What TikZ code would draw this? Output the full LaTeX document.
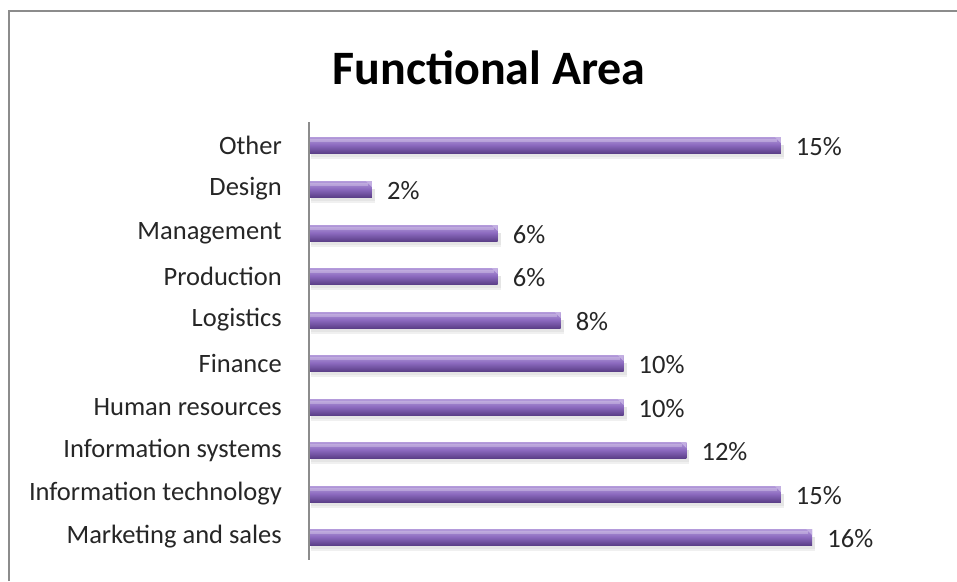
\documentclass[tikz,border=0pt]{standalone}
\usepackage{fontspec}
\setmainfont{Carlito}
\definecolor{barlight}{HTML}{B49BDB}
\definecolor{barmid}{HTML}{8B69BE}
\definecolor{bardark}{HTML}{5C4089}
\definecolor{framegray}{HTML}{8C8C8C}
\begin{document}
\begin{tikzpicture}[x=1pt,y=-1pt,
  catlabel/.style={anchor=east,font=\fontsize{26.5}{30}\selectfont,text=black!85,inner sep=0pt},
  pctlabel/.style={anchor=west,font=\fontsize{26.5}{30}\selectfont,text=black!85,inner sep=0pt},
  barshade/.style={top color=barlight,bottom color=bardark,middle color=barmid},
  barshadow/.style={fill=black!10}]
\useasboundingbox (0,0) rectangle (957,581);
\fill[white] (0,0) rectangle (957,581);
\draw[framegray,line width=2.5pt] (9,581) -- (9,11) -- (957,11);
\node[font=\fontsize{48}{52}\selectfont\bfseries,text=black] (title) at (489,68) {Functional Area};
\foreach \nm/\v/\yy [count=\i] in {Other/15/145, Design/2/189, Management/6/233, Production/6/276, Logistics/8/320, Finance/10/363, Human resources/10/407, Information systems/12/450, Information technology/15/494, Marketing and sales/16/537}{
  \pgfmathsetmacro{\xe}{309+\v*31.45}
  \fill[barshadow] (311,\yy) rectangle (\xe+3,\yy+12);
  \fill[black!6] (311,\yy+12) rectangle (\xe+3,\yy+14);
  \shade[barshade] (309,\yy-8) rectangle (\xe,\yy+8);
  \fill[white,opacity=0.25] (309,\yy-6) rectangle (\xe-4,\yy-3);
  \fill[barlight!80!white] (\xe-6,\yy-8) -- (\xe,\yy-8) -- (\xe,\yy-2) -- cycle;
  \node[catlabel] (c\i) at (282,\yy) {\nm};
  \node[pctlabel] (p\i) at (\xe+15,\yy+2) {\v\%};
}
\draw[black!45,line width=1.6pt] (309,122) -- (309,560);
\end{tikzpicture}
\end{document}
